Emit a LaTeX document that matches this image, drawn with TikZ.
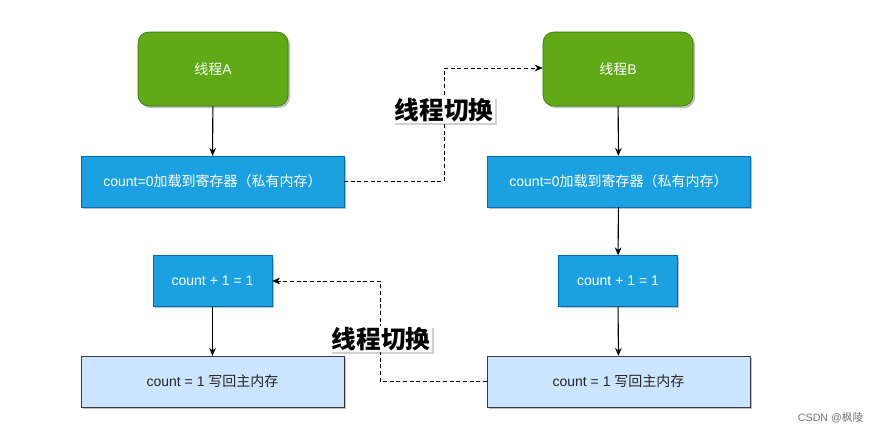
\documentclass[tikz,border=0pt]{standalone}
\usepackage{fontspec}
\setmainfont{Liberation Sans}
\newfontfamily\cjk{Noto Sans CJK SC}
\usetikzlibrary{arrows.meta,shadows}
\definecolor{grfill}{HTML}{60A917}
\definecolor{grdraw}{HTML}{2D7600}
\definecolor{blfill}{HTML}{1BA1E2}
\definecolor{bldraw}{HTML}{006EAF}
\definecolor{ltfill}{HTML}{CCE5FF}
\definecolor{ltdraw}{HTML}{36393D}
\tikzset{
  shd/.style={drop shadow={shadow xshift=1.5pt,shadow yshift=-1.5pt,opacity=0.25,fill=black}},
  thr/.style={shd,draw=grdraw,fill=grfill,rounded corners=8pt,minimum width=112.5pt,minimum height=55.5pt,text=white,font=\fontsize{10.5}{12}\selectfont,inner sep=0pt},
  blu/.style={shd,draw=bldraw,fill=blfill,minimum height=38pt,text=white,font=\fontsize{10.5}{12}\selectfont,inner sep=0pt},
  lit/.style={shd,draw=ltdraw,fill=ltfill,minimum height=38pt,text=black!85,font=\fontsize{10.5}{12}\selectfont,inner sep=0pt},
  flow/.style={-{Stealth[length=6pt,width=5pt]},thick,black},
  swp/.style={-{Stealth[length=6pt,width=5pt]},densely dashed,black},
  lbl/.style={fill=white,font=\cjk\bfseries\fontsize{18.5}{20}\selectfont,inner sep=1pt,drop shadow={shadow xshift=1.5pt,shadow yshift=-1.5pt,opacity=0.3,fill=black!60}}
}
\begin{document}
\begin{tikzpicture}[x=0.75pt,y=-0.75pt]
\useasboundingbox (0,0) rectangle (883,433);
\node[thr] (ta) at (213,69) {{\cjk 线程}A};
\node[blu,minimum width=197pt] (a1) at (212.5,181.5) {count=0{\cjk 加载到寄存器（私有内存）}};
\node[blu,minimum width=89pt] (a2) at (212.5,281) {count + 1 = 1};
\node[lit,minimum width=197pt] (a3) at (212.5,381.5) {count = 1 {\cjk 写回主内存}};
\node[thr] (tb) at (618,69) {{\cjk 线程}B};
\node[blu,minimum width=197pt] (b1) at (618.5,181.5) {count=0{\cjk 加载到寄存器（私有内存）}};
\node[blu,minimum width=89pt] (b2) at (618,281) {count + 1 = 1};
\node[lit,minimum width=197pt] (b3) at (618.5,381.5) {count = 1 {\cjk 写回主内存}};
\draw[flow] (ta) -- (a1);
\draw[flow] (a2) -- (a3);
\draw[flow] (tb) -- (b1);
\draw[flow] (b1) -- (b2);
\draw[flow] (b2) -- (b3);
\coordinate (c1) at (444,181.5);
\coordinate (c2) at (444,68);
\coordinate (c3) at (380,381.5);
\coordinate (c4) at (380,281);
\draw[swp] (a1.east) -- (c1) -- (c2) -- (tb.west |- c2);
\draw[swp] (b3.west) -- (c3) -- (c4) -- (a2.east);
\node[lbl] (l1) at (444,110) {线程切换};
\node[lbl] (l2) at (381,339) {线程切换};
\node[text=black!55,font=\fontsize{8}{9}\selectfont,anchor=east] (wm) at (868,418) {CSDN @{\cjk 枫陵}};
\end{tikzpicture}
\end{document}
